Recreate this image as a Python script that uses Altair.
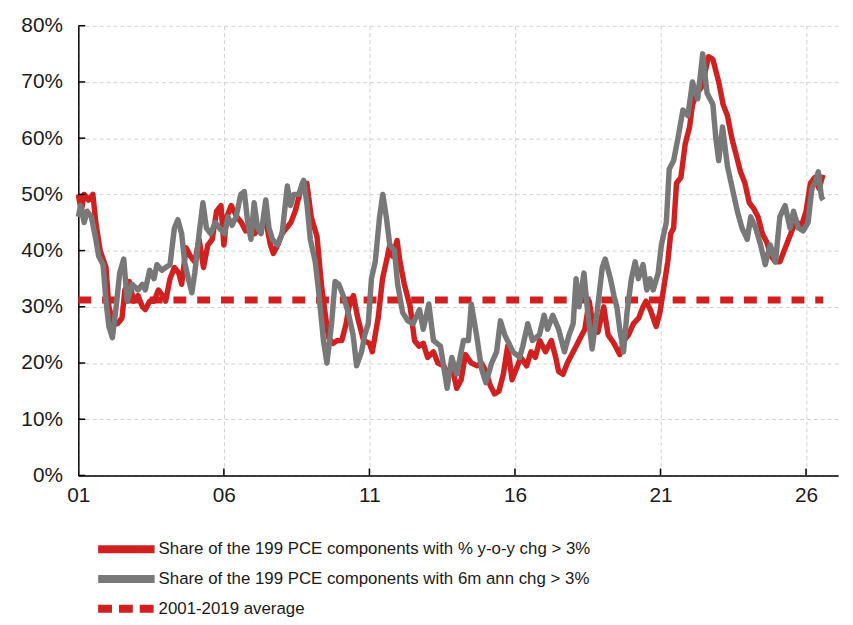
import altair as alt
import pandas as pd

# ---- data (fractional year, percent) ----
yoy_t = [2001.0, 2001.1, 2001.2, 2001.35, 2001.5, 2001.6, 2001.75, 2001.95, 2002.05, 2002.2,
         2002.35, 2002.5, 2002.6, 2002.75, 2002.9, 2003.05, 2003.2, 2003.3, 2003.45, 2003.6,
         2003.75, 2003.9, 2004.0, 2004.15, 2004.3, 2004.45, 2004.55, 2004.7, 2004.85, 2005.0,
         2005.15, 2005.3, 2005.45, 2005.6, 2005.75, 2005.9, 2006.0, 2006.1, 2006.25, 2006.45,
         2006.6, 2006.75, 2006.9, 2007.05, 2007.25, 2007.45, 2007.6, 2007.7, 2007.85, 2008.0,
         2008.15, 2008.3, 2008.45, 2008.55, 2008.7, 2008.85, 2009.0, 2009.2, 2009.35, 2009.5,
         2009.6, 2009.75, 2009.9, 2010.05, 2010.2, 2010.3, 2010.45, 2010.6, 2010.8, 2011.0,
         2011.1, 2011.3, 2011.45, 2011.6, 2011.7, 2011.8, 2011.95, 2012.05, 2012.2, 2012.4,
         2012.55, 2012.7, 2012.85, 2013.0, 2013.2, 2013.35, 2013.55, 2013.7, 2013.85, 2014.0,
         2014.15, 2014.3, 2014.5, 2014.7, 2014.85, 2015.0, 2015.15, 2015.3, 2015.45, 2015.6,
         2015.75, 2015.9, 2016.05, 2016.2, 2016.4, 2016.55, 2016.7, 2016.85, 2017.05, 2017.25,
         2017.4, 2017.5, 2017.65, 2017.8, 2018.0, 2018.2, 2018.4, 2018.55, 2018.7, 2018.85,
         2019.05, 2019.2, 2019.4, 2019.6, 2019.75, 2019.9, 2020.07, 2020.25, 2020.4, 2020.5,
         2020.65, 2020.85, 2020.98, 2021.1, 2021.25, 2021.35, 2021.45, 2021.55, 2021.7, 2021.85,
         2022.0, 2022.1, 2022.25, 2022.4, 2022.5, 2022.65, 2022.8, 2022.9, 2023.0, 2023.15,
         2023.3, 2023.45, 2023.6, 2023.75, 2023.9, 2024.05, 2024.2, 2024.35, 2024.5, 2024.65,
         2024.8, 2024.95, 2025.1, 2025.25, 2025.4, 2025.55, 2025.7, 2025.85, 2026.0, 2026.15,
         2026.3, 2026.45, 2026.58]
yoy_v = [50, 47, 50, 49, 50, 45, 40, 37, 30, 27,
         27, 28, 33, 34.5, 31, 32, 30, 29.5, 31, 31,
         33, 32, 31, 35, 37, 36, 34, 40.5, 39, 38,
         42, 37, 41, 42, 47, 48, 41, 46, 48, 46,
         45, 43.5, 45, 43, 44, 45, 41, 39.5, 41, 43,
         44, 45, 47, 49, 52, 52, 46, 42.5, 34, 28,
         24.5, 23.5, 24, 24, 27, 30, 32, 28, 24, 23.5,
         22, 28, 35, 38.5, 41, 39, 41.8, 38, 34, 30,
         24, 23, 23.5, 21, 22, 20, 19.5, 18, 19, 15.5,
         17, 21.5, 20, 19.5, 20, 18.5, 16, 14.5, 15, 18,
         23, 17, 19, 21, 19.5, 22, 21, 24, 22, 24,
         21, 18.5, 18, 20, 22, 24, 26, 31, 26, 25.5,
         30, 25, 23.5, 21.5, 24, 25, 27, 28, 30, 31,
         29.5, 26.5, 29, 33, 38, 43, 44, 52, 53, 59,
         62, 66, 68, 69, 71, 74.5, 74, 72, 70, 66,
         64, 60, 57, 54, 52, 48.5, 47.5, 46, 43, 41.5,
         39, 38, 38, 40, 42, 44, 45, 44.5, 47, 52,
         53, 51, 53.5]

ann_t = [2001.0, 2001.08, 2001.2, 2001.3, 2001.45, 2001.6, 2001.7, 2001.85, 2001.95, 2002.05,
         2002.17, 2002.3, 2002.42, 2002.56, 2002.68, 2002.85, 2003.05, 2003.2, 2003.3, 2003.45,
         2003.6, 2003.7, 2003.87, 2004.0, 2004.15, 2004.3, 2004.42, 2004.55, 2004.65, 2004.78,
         2004.9, 2005.0, 2005.15, 2005.28, 2005.4, 2005.55, 2005.7, 2005.85, 2006.02, 2006.14,
         2006.28, 2006.42, 2006.58, 2006.7, 2006.82, 2006.93, 2007.04, 2007.16, 2007.28, 2007.44,
         2007.55, 2007.67, 2007.84, 2008.0, 2008.18, 2008.29, 2008.4, 2008.57, 2008.74, 2008.86,
         2008.97, 2009.14, 2009.25, 2009.42, 2009.54, 2009.7, 2009.82, 2009.95, 2010.1, 2010.27,
         2010.44, 2010.56, 2010.73, 2010.84, 2010.96, 2011.07, 2011.2, 2011.35, 2011.46, 2011.58,
         2011.7, 2011.86, 2011.97, 2012.14, 2012.32, 2012.5, 2012.72, 2012.85, 2013.04, 2013.2,
         2013.44, 2013.67, 2013.83, 2014.0, 2014.23, 2014.4, 2014.5, 2014.68, 2014.85, 2015.0,
         2015.2, 2015.37, 2015.5, 2015.65, 2015.93, 2016.16, 2016.27, 2016.44, 2016.6, 2016.84,
         2017.0, 2017.12, 2017.3, 2017.5, 2017.7, 2017.86, 2018.0, 2018.1, 2018.2, 2018.37,
         2018.48, 2018.65, 2018.82, 2019.0, 2019.1, 2019.28, 2019.4, 2019.5, 2019.6, 2019.73,
         2019.85, 2020.0, 2020.13, 2020.24, 2020.4, 2020.53, 2020.64, 2020.75, 2020.92, 2021.03,
         2021.2, 2021.3, 2021.45, 2021.6, 2021.77, 2021.94, 2022.1, 2022.28, 2022.45, 2022.6,
         2022.8, 2022.9, 2023.0, 2023.13, 2023.3, 2023.47, 2023.64, 2023.8, 2023.98, 2024.1,
         2024.27, 2024.44, 2024.6, 2024.77, 2024.95, 2025.1, 2025.28, 2025.45, 2025.57, 2025.74,
         2025.9, 2026.07, 2026.2, 2026.3, 2026.42, 2026.53, 2026.59]
ann_v = [46, 48, 45, 47, 46, 42, 39, 37.5, 31, 26.5,
         24.5, 30, 36, 38.5, 31, 34, 33, 34, 33, 36.5,
         35, 37.5, 36.5, 37, 37.5, 44, 45.5, 43, 38, 35,
         32.5, 36, 43, 48.5, 44, 43, 45, 44, 43, 46,
         44.5, 46, 50, 50.5, 45, 42, 48.5, 44, 43, 49,
         44, 42, 41, 43, 51.5, 48, 50, 50, 52.5, 48,
         42, 38, 33, 24, 20, 27, 34.5, 34, 32, 29,
         25, 19.5, 22, 25, 27, 35, 38, 46, 50, 46,
         41, 40, 34, 29, 27.5, 27, 29.5, 26, 30.5, 24,
         23, 15.5, 21, 18, 24, 24, 30.5, 25, 19, 16.5,
         20, 22, 27.5, 25, 22, 21, 23, 27, 24, 25,
         28.5, 26, 28.5, 26, 22, 25, 27, 35, 30, 36,
         30, 22.5, 29, 37, 38.5, 35, 32, 30, 26, 22,
         29, 35, 38, 35, 37.5, 33, 35, 33, 36, 41,
         45, 54.5, 56, 60, 65, 64, 70, 67, 75, 68,
         66, 60, 56, 62, 55, 51, 47, 44, 42, 46,
         44, 41, 37.5, 41, 38, 46, 48, 44, 47, 44,
         43.5, 45, 51, 52, 54, 49.5, 49]

avg_t = [2001.0, 2026.59]
avg_v = [31.2, 31.2]

series_names = [
    "Share of the 199 PCE components with % y-o-y chg > 3%",
    "Share of the 199 PCE components with 6m ann chg > 3%",
    "2001-2019 average",
]
series_colors = ["#d0201f", "#787878", "#d0201f"]

x_ticks = [2001, 2006, 2011, 2016, 2021, 2026]
y_ticks = [0, 10, 20, 30, 40, 50, 60, 70, 80]

# ---- frames ----
df_yoy = pd.DataFrame({"t": yoy_t, "v": yoy_v, "series": series_names[0]})
df_ann = pd.DataFrame({"t": ann_t, "v": ann_v, "series": series_names[1]})
df_avg = pd.DataFrame({"t": avg_t, "v": avg_v, "series": series_names[2]})
df_xt = pd.DataFrame({"t": x_ticks[1:]})
df_yt = pd.DataFrame({"v": y_ticks})

FONT = "Liberation Sans"

x_enc = alt.X("t:Q", scale=alt.Scale(domain=[2001, 2027.1], nice=False, zero=False),
              axis=alt.Axis(values=x_ticks, labelExpr="substring(toString(datum.value), 2, 4)",
                            title=None, ticks=False, grid=True, gridDash=[4, 3],
                            gridColor="#cfcfcf", gridWidth=1, domainColor="#000000",
                            domainWidth=1.5, labelFontSize=21, labelFont=FONT,
                            labelColor="#1a1a1a", labelPadding=9, labelFlush=False))
y_enc = alt.Y("v:Q", scale=alt.Scale(domain=[0, 80], nice=False),
              axis=alt.Axis(values=y_ticks, labelExpr="datum.value + '%'", title=None,
                            ticks=False, grid=True, gridDash=[4, 3], gridColor="#cfcfcf",
                            gridWidth=1, domainColor="#000000", domainWidth=1.5,
                            labelFontSize=21, labelFont=FONT, labelColor="#1a1a1a",
                            labelPadding=16, labelFlush=False))

color_enc = alt.Color("series:N", scale=alt.Scale(domain=series_names, range=series_colors),
                      legend=alt.Legend(title=None, orient="none", legendX=37, legendY=517,
                                        symbolType="M-4,0H4", symbolSize=203,
                                        symbolStrokeWidth=8, labelFontSize=17,
                                        labelFont=FONT, labelColor="#1a1a1a",
                                        labelOffset=21, rowPadding=-3, padding=0,
                                        labelLimit=700))
dash_enc = alt.StrokeDash("series:N",
                          scale=alt.Scale(domain=series_names, range=[[1, 0], [1, 0], [14, 7]]),
                          legend=None)

line_yoy = alt.Chart(df_yoy).mark_line(strokeWidth=5.5, strokeJoin="round").encode(
    x=x_enc, y=y_enc, color=color_enc, strokeDash=dash_enc, order="t:Q")
line_avg = alt.Chart(df_avg).mark_line(strokeWidth=7, strokeDash=[13, 11]).encode(
    x=x_enc, y=y_enc, color=color_enc)
line_ann = alt.Chart(df_ann).mark_line(strokeWidth=5.5, strokeJoin="round").encode(
    x=x_enc, y=y_enc, color=color_enc, strokeDash=dash_enc, order="t:Q")

xt = alt.Chart(df_xt).mark_rule(color="#000000", strokeWidth=1.5).encode(
    x="t:Q", y=alt.value(454), y2=alt.value(447))
yt = alt.Chart(df_yt).mark_rule(color="#000000", strokeWidth=1.5).encode(
    y="v:Q", x=alt.value(0), x2=alt.value(7))

chart = alt.layer(line_yoy, line_avg, line_ann, xt, yt).properties(
    width=767, height=454,
    autosize=alt.AutoSizeParams(type="none"),
    padding={"left": 71, "top": 15, "right": 7, "bottom": 140},
).configure_view(stroke=None)

chart.save("out.html", embed_options={"renderer": "svg", "actions": False})
